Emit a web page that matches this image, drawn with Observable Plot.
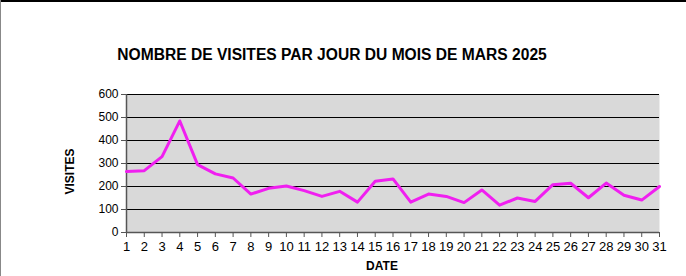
<!DOCTYPE html>
<html><head><meta charset="utf-8">
<script src="https://cdn.jsdelivr.net/npm/d3@7"></script>
<script src="https://cdn.jsdelivr.net/npm/@observablehq/plot@0.6"></script>
<style>
html,body{margin:0;padding:0;background:#fff;}
#wrap{position:relative;width:686px;height:276px;overflow:hidden;}
#topline{position:absolute;left:0;top:0;width:686px;height:2px;background:#000;}
#leftline{position:absolute;left:0;top:0;width:1px;height:276px;background:#888;}
svg{font-family:"Liberation Sans",Arial,sans-serif;}
</style></head>
<body><div id="wrap"></div>
<script>
const days = d3.range(1, 32);
const visits = [265,269,330,485,295,255,237,167,192,202,182,157,179,132,223,233,132,167,157,130,185,119,150,135,208,214,151,215,162,141,200];
const yTicks = [0,100,200,300,400,500,600];
const title = "NOMBRE DE VISITES PAR JOUR DU MOIS DE MARS 2025";
const xLabel = "DATE";
const yLabel = "VISITES";

const data = days.map((d,i)=>({day:d, v:visits[i]}));

const chart = Plot.plot({
  width: 686, height: 276,
  marginLeft: 126, marginRight: 27, marginTop: 94, marginBottom: 44,
  style: {fontFamily: '"Liberation Sans", Arial, sans-serif', fontSize: "12px", color: "#000", background: "transparent"},
  x: {domain: [1,31], ticks: days, tickFormat: d=>String(d), tickSize: 5, tickPadding: 4, label: null},
  y: {domain: [0,600], ticks: yTicks, tickSize: 5, tickPadding: 3, label: null},
  marks: [
    Plot.frame({fill: "#d9d9d9", stroke: null}),
    Plot.ruleY(yTicks.filter(t=>t>0), {stroke: "#000", strokeWidth: 1}),
    Plot.ruleY([0], {stroke: "#555", strokeWidth: 1.5}),
    Plot.ruleX([1], {stroke: "#555", strokeWidth: 1.5}),
    Plot.axisX({ticks: days, tickFormat: d=>String(d), tickSize: 5, tickPadding: 4, fontSize: 13, label: null, stroke: "#555"}),
    Plot.axisY({ticks: yTicks, tickSize: 5, tickPadding: 3, fontSize: 12, label: null, stroke: "#555"}),
    Plot.lineY(data, {x: "day", y: "v", stroke: "#f01ff0", strokeWidth: 3, curve: "linear"}),
    Plot.text([title], {frameAnchor: "top", textAnchor: "middle", dx: -61, dy: -46, fontWeight: "bold", fontSize: 15.6, fill: "#000"}),
    Plot.text([xLabel], {frameAnchor: "bottom", textAnchor: "middle", dx: -11, dy: 37, fontWeight: "bold", fontSize: 12, fill: "#000"}),
    Plot.text([yLabel], {frameAnchor: "left", textAnchor: "middle", dx: -56, dy: 8, rotate: -90, fontWeight: "bold", fontSize: 12, fill: "#000"})
  ]
});
const wrap = document.getElementById("wrap");
wrap.appendChild(chart);
const t = document.createElement("div"); t.id="topline"; wrap.appendChild(t);
const l = document.createElement("div"); l.id="leftline"; wrap.appendChild(l);
</script></body></html>
